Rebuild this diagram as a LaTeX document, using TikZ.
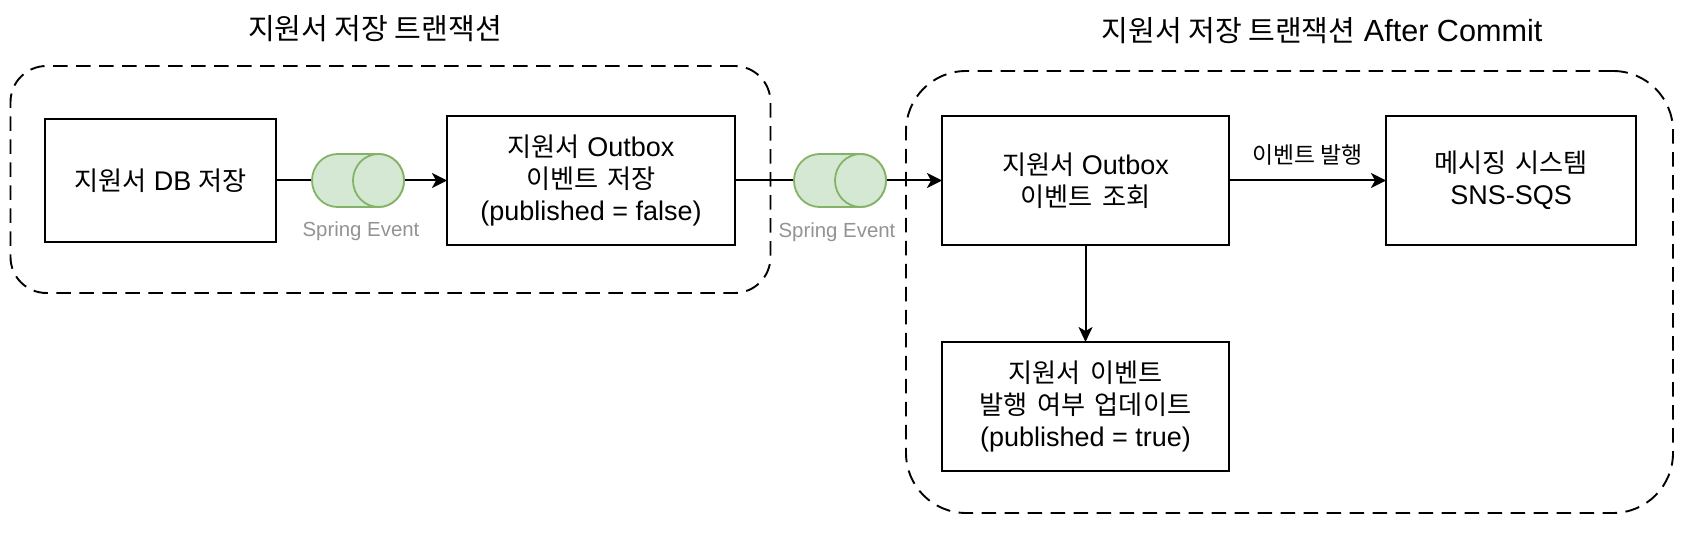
\documentclass[tikz,border=0pt]{standalone}
\usepackage{fontspec}
\setmainfont{Liberation Sans}
\newfontfamily\krfont[Scale=0.97, WordSpace=1.6]{Noto Sans CJK KR}
\newfontfamily\krtitlefont[Scale=0.95]{Noto Sans CJK KR}
\newfontfamily\krlblfont[Scale=0.9]{Noto Sans CJK KR}
\newcommand{\kr}[1]{{\krfont #1}}
\newcommand{\krtitle}[1]{{\krtitlefont #1}}
\usepackage{tikz}
\usetikzlibrary{arrows.meta, positioning}
\definecolor{eventfill}{HTML}{D5E8D4}
\definecolor{eventline}{HTML}{82B366}

\begin{document}
\begin{tikzpicture}[x=1pt, y=-1pt,
  group/.style={draw, line width=1.9pt, dash pattern=on 14.5pt off 8.5pt, outer sep=0pt, inner sep=0pt},
  title/.style={font=\fontsize{30.6}{36}\selectfont},
  box/.style={draw, line width=2.2pt, outer sep=0pt, inner sep=0pt, align=center, font=\fontsize{27}{32}\selectfont},
  event/.style={minimum width=92pt, minimum height=53pt, outer sep=0pt, inner sep=0pt},
  evbody/.style={draw=eventline, fill=eventfill, line width=1.8pt},
  evlbl/.style={text=gray!85, font=\fontsize{20.4}{24}\selectfont},
  flow/.style={-{Stealth[length=15pt, width=15pt, inset=4pt]}, line width=2pt},
  plain/.style={line width=2pt}
]
\useasboundingbox (0,0) rectangle (1682,540);

\node[group, rounded corners=36pt, minimum width=760pt, minimum height=227pt] (left) at (390.5,179.5) {};
\node[group, rounded corners=60pt, minimum width=767pt, minimum height=442pt] (right) at (1289.5,292) {};
\node[title] (lefttitle) at (375,29) {\krtitle{지원서 저장 트랜잭션}};
\node[title] (righttitle) at (1322,31) {\krtitle{지원서 저장 트랜잭션} After Commit};

\node[box, minimum width=231pt, minimum height=123pt] (save) at (160.5,180.5) {\kr{지원서} DB \kr{저장}};
\node[box, minimum width=288pt, minimum height=129pt] (outbox) at (591,180.5) {\kr{지원서} Outbox\\\kr{이벤트 저장}\\(published = false)};
\node[box, minimum width=287pt, minimum height=129pt] (query) at (1085.5,180.5) {\kr{지원서} Outbox\\\kr{이벤트 조회}};
\node[box, minimum width=250pt, minimum height=129pt] (sns) at (1511,180.5) {\kr{메시징 시스템}\\SNS-SQS};
\node[box, minimum width=287pt, minimum height=129pt] (update) at (1085.5,406.5) {\kr{지원서 이벤트}\\\kr{발행 여부 업데이트}\\(published = true)};

\node[event] (evone) at (358,180.5) {};
\node[event] (evtwo) at (840,180.5) {};
\node[evlbl] (evonelbl) at (361,231) {Spring Event};
\node[evlbl] (evtwolbl) at (837,232) {Spring Event};

\draw[plain] (save.east) -- (evone.west);
\draw[flow] (evone.east) -- (outbox.west);
\draw[plain] (outbox.east) -- (evtwo.west);
\draw[flow] (evtwo.east) -- (query.west);
\draw[flow] (query.east) -- node[midway, above=11pt, font=\fontsize{25.4}{30}\selectfont] (publish) {{\krlblfont 이벤트 발행}} (sns.west);
\draw[-{Stealth[length=15pt, width=14pt, inset=4pt]}, line width=2pt] (query.south) -- (update.north);

% cylinders sit on top of the lines
\foreach \ev in {evone, evtwo} {
  \draw[evbody] (\ev.north west) ++(25.5pt,0pt)
    arc[start angle=90, end angle=270, x radius=25.5pt, y radius=26.5pt]
    -- ([xshift=-25.5pt]\ev.south east)
    arc[start angle=270, end angle=450, x radius=25.5pt, y radius=26.5pt]
    -- cycle;
  \draw[evbody] ([xshift=-25.5pt]\ev.east) ellipse[x radius=25.5pt, y radius=26.5pt];
}
\end{tikzpicture}
\end{document}
